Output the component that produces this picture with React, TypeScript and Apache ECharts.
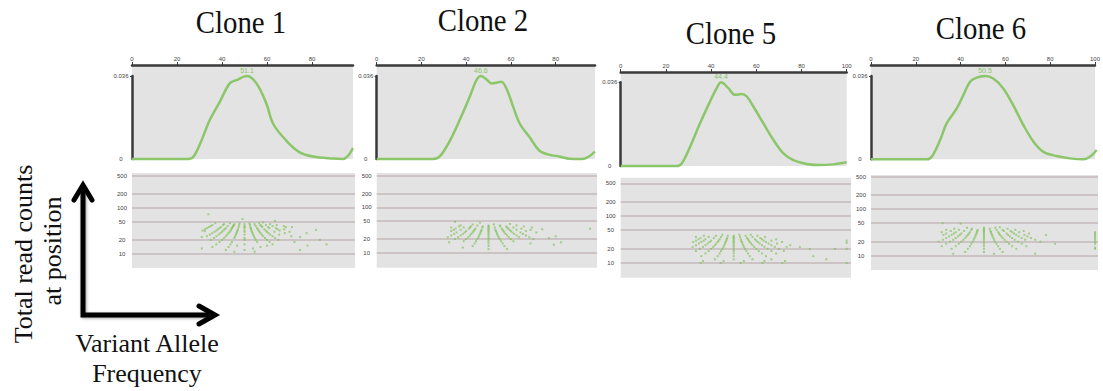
import React, { useEffect, useRef } from "react";
import * as echarts from "echarts";

// ---- data ----
const cloneNames = ["Clone 1", "Clone 2", "Clone 5", "Clone 6"];
const peakVaf = [51.1, 46.6, 44.4, 50.5];
const densityTop = 0.036;
const xTicksTop = [
  [0, 20, 40, 60, 80],
  [0, 20, 40, 60, 80],
  [0, 20, 40, 60, 80, 100],
  [0, 20, 40, 60, 80, 100],
];
const depthTicks = [10, 20, 50, 100, 200, 500];

// VAF (%) vs density
const clone1Density: [number, number][] = [
  [0, 0], [10, 0], [20, 0], [24, 0], [27, 0.0007], [30.5, 0.0072], [34.5, 0.0168],
  [39, 0.0248], [43.4, 0.0328], [46.4, 0.0342], [51.1, 0.036], [55.3, 0.0328],
  [59.7, 0.0241], [62.7, 0.0153], [68.6, 0.0079], [74.5, 0.0029], [80.4, 0.0011],
  [89.3, 0.0002], [93.8, 0], [98.2, 0.0047],
];
const clone2Density: [number, number][] = [
  [0, 0], [10, 0], [20, 0], [25.3, 0], [28.2, 0.0011], [32.7, 0.0079], [37.1, 0.0169],
  [41.6, 0.027], [44.6, 0.0342], [46.6, 0.036], [49, 0.0346], [51.3, 0.0328],
  [53.5, 0.0331], [55.7, 0.0335], [58, 0.0306], [61, 0.0227], [64, 0.0153],
  [68.4, 0.0094], [72.8, 0.0036], [77.3, 0.0018], [81.7, 0.0011], [86.2, 0.0001],
  [92, 0], [97.6, 0.0032],
];
const clone5Density: [number, number][] = [
  [0, 0], [10, 0], [20, 0], [24.8, 0], [27, 0.0011], [30.7, 0.0083], [35.1, 0.0184],
  [39.5, 0.0277], [42.5, 0.0335], [44.4, 0.036], [47.6, 0.0335], [50.6, 0.0306],
  [53.5, 0.031], [55.8, 0.0299], [58.7, 0.0256], [63.1, 0.0184], [67.6, 0.0112],
  [72, 0.0054], [76.4, 0.0025], [82.3, 0.0009], [88.2, 0.0004], [94.1, 0.0007],
  [100, 0.0016],
];
const clone6Density: [number, number][] = [
  [0, 0], [10, 0], [20, 0], [24.7, 0], [26.9, 0.0011], [30.6, 0.0083], [33.5, 0.0155],
  [38, 0.022], [40.9, 0.0277], [43.9, 0.0335], [46.8, 0.0353], [50.5, 0.036],
  [54.2, 0.0349], [58.6, 0.0306], [63, 0.0234], [67.5, 0.0148], [72, 0.0076],
  [76.4, 0.0032], [82.3, 0.0014], [88.2, 0.0004], [94.1, 0], [97, 0.0011], [100, 0.004],
];

// total read depth -> variant allele frequencies (%) observed at that depth
const clone1Reads: [number, number[]][] = [
  [72, [33.9]], [57, [49.1]], [52, [63.5]], [48, [58.3]],
  [46, [37, 43.5, 47.8, 52.2, 56.5]],
  [44, [40.9, 45.5, 50, 54.5, 61.4]],
  [42, [35.7, 40.5, 45.2, 47.6, 52.4, 57.1, 59.5, 64.3]],
  [40, [35, 42.5, 45, 50, 55, 57.5, 62.5, 67.5]],
  [38, [34.2, 39.5, 44.7, 47.4, 50, 52.6, 57.9, 60.5, 68.4, 71.1]],
  [36, [33.3, 38.9, 41.7, 44.4, 50, 52.8, 55.6, 61.1, 63.9]],
  [34, [32.4, 38.2, 41.2, 44.1, 47.1, 52.9, 55.9, 58.8, 64.7, 67.6]],
  [33, [81.8]],
  [32, [31.3, 37.5, 40.6, 43.8, 46.9, 50, 53.1, 56.3, 59.4, 65.6]],
  [31, [32.3]],
  [30, [36.7, 40, 43.3, 46.7, 50, 53.3, 56.7, 60, 63.3, 70]],
  [28, [35.7, 39.3, 42.9, 46.4, 53.6, 57.1, 60.7, 67.9, 77.6]],
  [26, [34.6, 38.5, 42.3, 46.2, 50, 53.8, 57.7, 61.5, 65.4]],
  [24, [33.3, 37.5, 41.7, 45.8, 54.2, 58.3, 62.5, 70.8]],
  [23, [31, 74.7]],
  [22, [36.4, 40.9, 45.5, 50, 54.5, 59.1, 63.6]],
  [20, [35, 40, 50, 55, 60, 65, 83.5]],
  [18, [38.9, 44.4, 55.6, 61.1, 72.2]],
  [16, [37.5, 43.8, 50, 62.5, 86.5]],
  [15, [46.7, 60, 78]],
  [14, [35.7, 42.9, 57.1]],
  [13, [31, 53.8]],
  [12, [41.7, 50, 74.7]],
  [11, [45.5, 54.5]],
];
const clone2Reads: [number, number[]][] = [
  [48, [35]], [46, [46.2]], [43, [59.6]],
  [42, [42.9, 52.4]],
  [40, [37.5, 45, 50, 55, 62.5]],
  [38, [36.8, 42.1, 47.4, 50, 55.3, 57.9, 65.8]],
  [36, [33.3, 38.9, 41.7, 47.2, 50, 52.8, 58.3, 61.1, 69.4]],
  [34, [35.3, 41.2, 44.1, 50, 55.9, 58.8, 64.7, 95.4]],
  [33, [74]],
  [32, [34.4, 37.5, 43.8, 46.9, 50, 53.1, 56.3, 59.4, 62.5, 68.8]],
  [30, [33.3, 40, 43.3, 46.7, 50, 53.3, 56.7, 60, 66.7]],
  [28, [35.7, 39.3, 42.9, 46.4, 50, 53.6, 57.1, 60.7, 64.3, 71.4]],
  [26, [34.6, 38.5, 42.3, 46.2, 50, 53.8, 57.7, 61.5, 65.4]],
  [24, [33.3, 37.5, 41.7, 45.8, 50, 54.2, 58.3, 62.5, 66.7]],
  [23, [80]],
  [22, [31.8, 36.4, 40.9, 45.5, 50, 54.5, 59.1, 63.6, 68.2]],
  [21, [77]],
  [20, [35, 40, 45, 50, 55, 60, 70]],
  [18, [38.9, 44.4, 50, 55.6, 61.1]],
  [17, [32.4, 82.4]],
  [16, [43.8, 50, 56.3, 68.8]],
  [15, [79.2]],
  [14, [42.9, 50, 57.1]],
  [13, [38.5]],
  [12, [50, 58.3]],
];
const clone5Reads: [number, number[]][] = [
  [40, [45, 52.5, 57.5]],
  [38, [36.8, 42.1, 47.4, 50, 55.3, 60.5]],
  [36, [33.3, 38.9, 44.4, 50, 52.8, 58.3, 63.9]],
  [34, [35.3, 41.2, 47.1, 50, 55.9, 61.8]],
  [32, [34.4, 37.5, 43.8, 46.9, 50, 53.1, 56.3, 59.4, 62.5, 68.8]],
  [30, [33.3, 36.7, 40, 43.3, 46.7, 50, 53.3, 56.7, 60, 63.3, 66.7, 100]],
  [28, [32.1, 35.7, 39.3, 42.9, 46.4, 50, 53.6, 57.1, 60.7, 64.3, 71.4]],
  [27, [100]],
  [26, [34.6, 38.5, 42.3, 46.2, 50, 53.8, 57.7, 61.5, 65.4, 69.2]],
  [24, [33.3, 37.5, 41.7, 45.8, 50, 54.2, 58.3, 62.5, 66.7, 75]],
  [22, [31.8, 36.4, 40.9, 45.5, 50, 54.5, 59.1, 63.6, 68.2, 73.4, 79.3]],
  [20, [35, 40, 45, 50, 55, 60, 65, 70, 83.7, 94.8, 100]],
  [18, [33.3, 38.9, 44.4, 50, 55.6, 61.1, 66.7, 72.2]],
  [16, [37.5, 43.8, 50, 56.3, 62.5, 68.8]],
  [14, [35.7, 42.9, 50, 57.1, 64.3, 85.2]],
  [12, [41.7, 50, 58.3, 66.7, 91]],
  [11, [36.4, 45.5, 54.5, 63.6, 72.7]],
  [10, [35.4, 44.2, 53.1, 62.7, 71.5, 100]],
];
const clone6Reads: [number, number[]][] = [
  [50, [31.7]], [49, [39.7]], [41, [57]],
  [40, [42.5, 50, 55]],
  [38, [36.8, 44.7, 50, 52.6, 60.5]],
  [36, [33.3, 38.9, 44.4, 47.2, 50, 55.6, 58.3, 63.9]],
  [34, [35.3, 41.2, 47.1, 50, 52.9, 58.8, 61.8, 67.6]],
  [32, [31.3, 37.5, 43.8, 46.9, 50, 53.1, 56.3, 62.5, 65.6, 99.2]],
  [30, [33.3, 36.7, 40, 43.3, 46.7, 50, 53.3, 56.7, 60, 63.3, 70, 99.2]],
  [28, [32.1, 35.7, 39.3, 42.9, 46.4, 50, 53.6, 57.1, 60.7, 64.3, 67.9, 77.5, 99.2]],
  [26, [34.6, 38.5, 42.3, 46.2, 50, 53.8, 57.7, 61.5, 65.4, 69.2, 99.2]],
  [24, [33.3, 37.5, 41.7, 45.8, 50, 54.2, 58.3, 62.5, 66.7, 70.8, 99.2]],
  [22, [31.8, 36.4, 40.9, 45.5, 50, 54.5, 59.1, 63.6, 68.2, 72.7, 99.2]],
  [20, [30, 35, 40, 45, 50, 55, 60, 65, 75, 99.2]],
  [18, [33.3, 38.9, 44.4, 50, 55.6, 61.1, 66.7, 81.5, 99.2]],
  [16, [31.3, 37.5, 43.8, 50, 56.3, 62.5, 68.8]],
  [15, [99.2]],
  [14, [35.7, 42.9, 50, 57.1, 64.3, 99.2]],
  [12, [41.7, 50, 58.3]],
  [11, [36.4, 54.5, 72.7]],
];

const densities = [clone1Density, clone2Density, clone5Density, clone6Density];
const reads = [clone1Reads, clone2Reads, clone5Reads, clone6Reads];

// ---- layout ----
// frame: grey box carrying the top VAF axis; plotTop: where the density axis ends (densityTop)
const densityLayout = [
  { left: 132, top: 65, width: 221, height: 94, plotTop: 76, xMax: 98.2 },
  { left: 376.7, top: 65, width: 218.3, height: 94, plotTop: 76, xMax: 97.6 },
  { left: 620.7, top: 72, width: 226, height: 94, plotTop: 82.3, xMax: 100 },
  { left: 871, top: 65, width: 225.7, height: 94.3, plotTop: 76, xMax: 100 },
];
const scatterLayout = [
  { left: 132, top: 173, width: 223, height: 95, xMax: 99.1, yMin: 4.88, yMax: 572 },
  { left: 376.7, top: 173, width: 220.3, height: 94.7, xMax: 98.5, yMin: 4.67, yMax: 574 },
  { left: 620.7, top: 177.7, width: 230.3, height: 100, xMax: 101.9, yMin: 4.86, yMax: 658 },
  { left: 871, top: 175, width: 227, height: 95, xMax: 100.5, yMin: 4.92, yMax: 544 },
];
const titlePos = [
  { x: 241, y: 22 },
  { x: 483, y: 20 },
  { x: 731, y: 33 },
  { x: 981, y: 28.5 },
];

const GREEN = "#8cc66a";
const DOT = "#7dc155";
const PANEL_BG = "#e3e3e3";
const AXIS = "#3a3a3a";
const TICK_TEXT = "#444444";

function buildOption() {
  const grid: any[] = [];
  const xAxis: any[] = [];
  const yAxis: any[] = [];
  const series: any[] = [];

  // grey frames carrying the top VAF axis
  densityLayout.forEach((g, i) => {
    grid.push({
      left: g.left, top: g.top, width: g.width, height: g.height,
      show: true, backgroundColor: PANEL_BG, borderWidth: 0,
    });
    xAxis.push({
      type: "value", gridIndex: i, position: "top", min: 0, max: g.xMax,
      axisLine: { show: true, onZero: false, lineStyle: { color: AXIS, width: 2.5 } },
      axisTick: { show: true, inside: false, length: 3, customValues: xTicksTop[i], lineStyle: { color: AXIS, width: 1 } },
      axisLabel: { show: true, customValues: xTicksTop[i], fontSize: 6, color: TICK_TEXT, margin: 3 },
      splitLine: { show: false },
    });
    yAxis.push({ type: "value", gridIndex: i, min: 0, max: 1, show: false });
  });

  // density curves
  densityLayout.forEach((g, i) => {
    const k = i + 4;
    grid.push({
      left: g.left, top: g.plotTop, width: g.width, height: g.top + g.height - g.plotTop,
      show: false,
    });
    xAxis.push({ type: "value", gridIndex: k, min: 0, max: g.xMax, show: false });
    yAxis.push({
      type: "value", gridIndex: k, min: 0, max: densityTop,
      axisLine: { show: true, onZero: false, lineStyle: { color: AXIS, width: 2.5 } },
      axisTick: { show: true, length: 2, customValues: [densityTop], lineStyle: { color: AXIS, width: 1 } },
      axisLabel: {
        show: true, customValues: [0, densityTop], fontSize: 6, color: TICK_TEXT,
        align: "center", margin: 11, formatter: (v: number) => String(v),
      },
      splitLine: { show: false },
    });
    series.push({
      type: "line", xAxisIndex: k, yAxisIndex: k, clip: false,
      data: densities[i], smooth: 0.35,
      showSymbol: false, symbol: "none",
      lineStyle: { color: GREEN, width: 2.5 },
      markPoint: {
        silent: true, symbol: "circle", symbolSize: 1,
        itemStyle: { color: "rgba(0,0,0,0)" },
        label: {
          show: true, position: "top", distance: 2, fontSize: 7, color: GREEN,
          formatter: String(peakVaf[i]),
        },
        data: [{ coord: [peakVaf[i], densityTop] }],
      },
    });
  });

  // read depth vs VAF scatter panels
  scatterLayout.forEach((g, i) => {
    const k = i + 8;
    grid.push({
      left: g.left, top: g.top, width: g.width, height: g.height,
      show: true, backgroundColor: PANEL_BG, borderWidth: 0,
    });
    xAxis.push({ type: "value", gridIndex: k, min: 0, max: g.xMax, show: false });
    yAxis.push({
      type: "log", gridIndex: k, min: g.yMin, max: g.yMax, logBase: 10,
      axisLine: { show: false },
      axisTick: { show: false },
      axisLabel: {
        show: true, customValues: depthTicks, fontSize: 6, color: TICK_TEXT,
        align: "center", margin: 10, formatter: (v: number) => String(Math.round(v)),
      },
      splitLine: { show: false },
    });
    const pts: [number, number][] = [];
    reads[i].forEach(([depth, vafs]) => vafs.forEach((v) => pts.push([v, depth])));
    series.push({
      type: "scatter", xAxisIndex: k, yAxisIndex: k, data: pts,
      symbol: "rect", symbolSize: 2,
      itemStyle: { color: DOT, opacity: 0.65 },
      z: 3,
      markLine: {
        silent: true, symbol: ["none", "none"], label: { show: false }, z: 2,
        lineStyle: { color: "#c4baba", width: 1.5, type: "solid" },
        data: depthTicks.map((d) => ({ yAxis: d })),
      },
    });
  });

  const serif = '"Liberation Serif", "DejaVu Serif", serif';
  const graphic: any[] = [];
  cloneNames.forEach((name, i) => {
    graphic.push({
      type: "text", x: titlePos[i].x, y: titlePos[i].y, scaleX: 0.9, scaleY: 1,
      style: { text: name, font: `32px ${serif}`, fill: "#111", align: "center", verticalAlign: "middle" },
    });
  });
  graphic.push(
    {
      type: "text", x: 23, y: 254, rotation: Math.PI / 2,
      style: { text: "Total read counts", font: `26px ${serif}`, fill: "#111", align: "center", verticalAlign: "middle" },
    },
    {
      type: "text", x: 52, y: 251, rotation: Math.PI / 2,
      style: { text: "at position", font: `26px ${serif}`, fill: "#111", align: "center", verticalAlign: "middle" },
    },
    {
      type: "text", x: 147, y: 343,
      style: { text: "Variant Allele", font: `26px ${serif}`, fill: "#111", align: "center", verticalAlign: "middle" },
    },
    {
      type: "text", x: 147, y: 373,
      style: { text: "Frequency", font: `26px ${serif}`, fill: "#111", align: "center", verticalAlign: "middle" },
    },
    {
      type: "polyline",
      shape: { points: [[83, 186], [83, 315], [213, 315]] },
      style: { stroke: "#000", lineWidth: 5, fill: null, lineJoin: "miter", shadowBlur: 3, shadowColor: "rgba(0,0,0,0.35)", shadowOffsetX: 1, shadowOffsetY: 1 },
    },
    {
      type: "polyline",
      shape: { points: [[74, 200], [83, 185], [92, 200]] },
      style: { stroke: "#000", lineWidth: 5, fill: null, lineJoin: "miter", lineCap: "round" },
    },
    {
      type: "polyline",
      shape: { points: [[199, 306], [215, 315], [199, 324]] },
      style: { stroke: "#000", lineWidth: 5, fill: null, lineJoin: "miter", lineCap: "round" },
    }
  );

  return {
    animation: false,
    backgroundColor: "#ffffff",
    textStyle: { fontFamily: '"Liberation Sans", Arial, sans-serif' },
    grid, xAxis, yAxis, series, graphic,
  };
}

export default function App() {
  const ref = useRef<HTMLDivElement>(null);
  useEffect(() => {
    if (!ref.current) return;
    const chart = echarts.init(ref.current, undefined, { renderer: "svg" });
    chart.setOption(buildOption() as any);
    return () => chart.dispose();
  }, []);
  return (
    <div
      ref={ref}
      style={{ position: "absolute", left: 0, top: 0, width: 1103, height: 391 }}
    />
  );
}
